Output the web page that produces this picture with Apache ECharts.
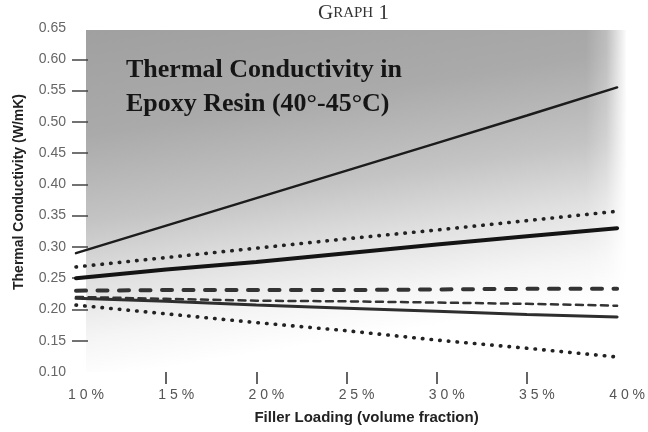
<!DOCTYPE html>
<html>
<head>
<meta charset="utf-8">
<script src="https://cdn.jsdelivr.net/npm/echarts@6/dist/echarts.min.js"></script>
<style>
  html, body { margin: 0; padding: 0; background: #fff; }
  #main { width: 648px; height: 432px; }
</style>
</head>
<body>
<div id="main"></div>
<script>
// filler loading (volume fraction, %) and the tick labels under the x axis
var loading = [10, 15, 20, 25, 30, 35, 40];
var tickLabels = ['10%', '15%', '20%', '25%', '30%', '35%', '40%'];
var yTicks = [0.15, 0.20, 0.25, 0.30, 0.35, 0.40, 0.45, 0.50, 0.55, 0.60];

// thermal conductivity, W/mK top to bottom
var solidTop    = [0.290, 0.334, 0.378, 0.422, 0.466, 0.510, 0.555];
var dottedUpper = [0.268, 0.283, 0.298, 0.313, 0.327, 0.342, 0.357];
var solidThick  = [0.250, 0.264, 0.276, 0.290, 0.304, 0.317, 0.330];
var dashedThick = [0.230, 0.231, 0.231, 0.231, 0.232, 0.233, 0.233];
var dashedThin  = [0.220, 0.217, 0.214, 0.213, 0.211, 0.209, 0.206];
var solidMid    = [0.218, 0.213, 0.207, 0.202, 0.197, 0.192, 0.188];
var dottedLower = [0.207, 0.193, 0.179, 0.166, 0.151, 0.138, 0.124];

function pairs(arr) {
  return loading.map(function (x, i) { return [x, arr[i]]; });
}

function line(name, arr, color, width, type) {
  return {
    name: name,
    type: 'line',
    data: pairs(arr),
    symbol: 'none',
    silent: true,
    lineStyle: { color: color, width: width, type: type, cap: 'round' }
  };
}

var chart = echarts.init(document.getElementById('main'));

var option = {
  animation: false,
  title: [
    {
      text: '{a|G}{b|RAPH}{a| 1}',
      left: 318,
      top: 3,
      padding: 0,
      textStyle: {
        fontWeight: 'normal',
        rich: {
          a: { fontFamily: 'Liberation Serif', fontWeight: 'normal', fontSize: 21, color: '#333' },
          b: { fontFamily: 'Liberation Serif', fontWeight: 'normal', fontSize: 15, color: '#333' }
        }
      }
    },
    {
      text: 'Thermal Conductivity in\nEpoxy Resin (40°-45°C)',
      left: 126,
      top: 53,
      padding: 0,
      textStyle: {
        fontFamily: 'Liberation Serif',
        fontWeight: 'bold',
        fontSize: 26,
        lineHeight: 34,
        color: '#151515'
      }
    }
  ],
  graphic: [
    {
      type: 'rect',
      z: -10,
      shape: { x: 86, y: 30, width: 540, height: 342 },
      style: {
        fill: new echarts.graphic.LinearGradient(0, 0, 0.1, 1, [
          { offset: 0, color: '#a0a0a0' },
          { offset: 0.3, color: '#aaaaaa' },
          { offset: 0.55, color: '#c4c4c4' },
          { offset: 0.72, color: '#e0e0e0' },
          { offset: 0.88, color: '#f5f5f5' },
          { offset: 1, color: '#ffffff' }
        ])
      }
    },
    {
      type: 'rect',
      z: -9,
      shape: { x: 586, y: 30, width: 41, height: 342 },
      style: {
        fill: new echarts.graphic.LinearGradient(0, 0, 1, 0, [
          { offset: 0, color: 'rgba(255,255,255,0)' },
          { offset: 0.5, color: 'rgba(255,255,255,0.25)' },
          { offset: 1, color: '#ffffff' }
        ])
      }
    }
  ],
  grid: {
    left: 76,
    right: 24,
    top: 28,
    bottom: 60
  },
  xAxis: {
    type: 'value',
    min: 10,
    max: 40,
    interval: 5,
    name: 'Filler Loading (volume fraction)',
    nameLocation: 'middle',
    nameGap: 38,
    nameTextStyle: {
      fontFamily: 'Liberation Sans',
      fontWeight: 'bold',
      fontSize: 15,
      color: '#222',
      padding: [0, 0, 0, 40]
    },
    axisLine: { show: false },
    splitLine: { show: false },
    axisTick: {
      show: true,
      length: 12,
      customValues: [15, 20, 25, 30, 35],
      lineStyle: { color: '#333', width: 1.5 }
    },
    axisLabel: {
      customValues: loading,
      margin: 16,
      fontFamily: 'Liberation Sans',
      fontSize: 14,
      color: '#555',
      padding: [0, 0, 0, 20],
      formatter: function (v) {
        var s = tickLabels[loading.indexOf(v)] || '';
        return s.split('').join(' ');
      }
    }
  },
  yAxis: {
    type: 'value',
    min: 0.10,
    max: 0.65,
    interval: 0.05,
    offset: -12,
    name: 'Thermal Conductivity (W/mK)',
    nameLocation: 'middle',
    nameGap: 62,
    nameTextStyle: {
      fontFamily: 'Liberation Sans',
      fontWeight: 'bold',
      fontSize: 14,
      color: '#222',
      padding: [0, 0, 0, 16]
    },
    axisLine: { show: false },
    splitLine: { show: false },
    axisTick: {
      show: true,
      length: 16,
      customValues: yTicks,
      lineStyle: { color: '#444', width: 1.5 }
    },
    axisLabel: {
      margin: 22,
      fontFamily: 'Liberation Sans',
      fontSize: 14,
      color: '#666',
      formatter: function (v) { return v.toFixed(2); }
    }
  },
  series: [
    line('top solid', solidTop, '#1c1c1c', 2.5, 'solid'),
    line('upper dotted', dottedUpper, '#222', 3.6, [0.5, 8.2]),
    line('thick solid', solidThick, '#141414', 4, 'solid'),
    line('thick dashed', dashedThick, '#333', 4, [10, 11.5]),
    line('thin dashed', dashedThin, '#333', 2.5, [7, 5.5]),
    line('middle solid', solidMid, '#2e2e2e', 3, 'solid'),
    line('lower dotted', dottedLower, '#222', 3.6, [0.5, 8.2])
  ]
};

chart.setOption(option);
</script>
</body>
</html>
